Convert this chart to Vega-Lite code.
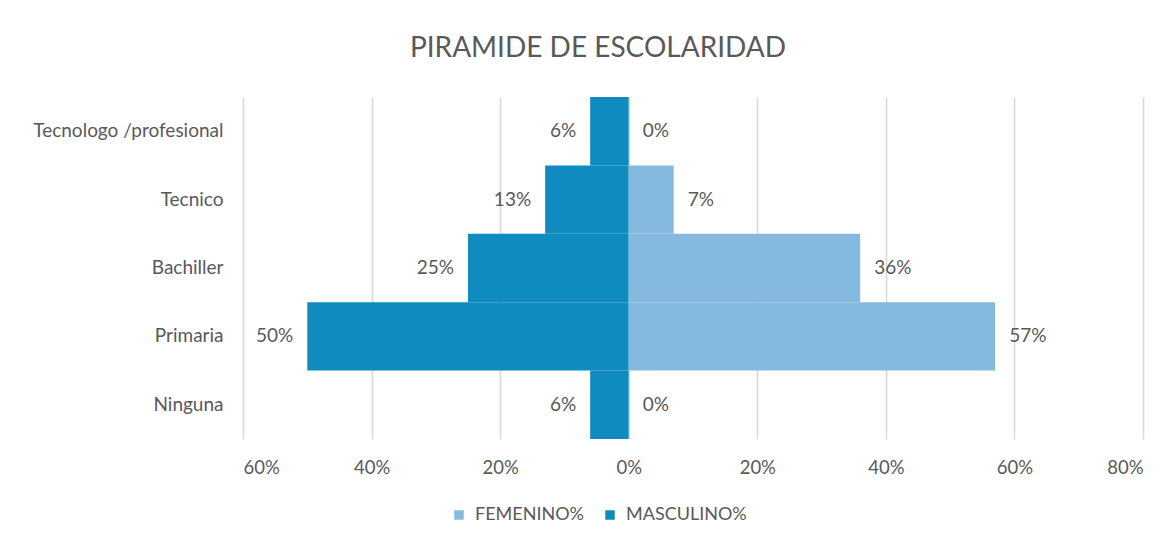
{
  "$schema": "https://vega.github.io/schema/vega-lite/v6.json",
  "autosize": "none",
  "width": 900,
  "height": 342,
  "padding": {"left": 243, "top": 97, "right": 30, "bottom": 100},
  "background": "white",
  "config": {
    "font": "Lato",
    "view": {"stroke": null},
    "axis": {"labelColor": "#595959", "labelFont": "Lato"}
  },
  "title": {
    "text": "PIRAMIDE DE ESCOLARIDAD",
    "font": "Lato",
    "fontSize": 28,
    "fontWeight": "normal",
    "color": "#595959",
    "anchor": "middle",
    "dx": -95,
    "offset": 34
  },
  "data": {
    "values": [
      {"nivel": "Tecnologo /profesional", "sexo": "MASCULINO%", "valor": -0.06},
      {"nivel": "Tecnico ", "sexo": "MASCULINO%", "valor": -0.13},
      {"nivel": "Bachiller", "sexo": "MASCULINO%", "valor": -0.25},
      {"nivel": "Primaria", "sexo": "MASCULINO%", "valor": -0.50},
      {"nivel": "Ninguna", "sexo": "MASCULINO%", "valor": -0.06},
      {"nivel": "Tecnologo /profesional", "sexo": "FEMENINO%", "valor": 0.0},
      {"nivel": "Tecnico ", "sexo": "FEMENINO%", "valor": 0.07},
      {"nivel": "Bachiller", "sexo": "FEMENINO%", "valor": 0.36},
      {"nivel": "Primaria", "sexo": "FEMENINO%", "valor": 0.57},
      {"nivel": "Ninguna", "sexo": "FEMENINO%", "valor": 0.0}
    ]
  },
  "encoding": {
    "y": {
      "field": "nivel",
      "type": "nominal",
      "sort": ["Tecnologo /profesional", "Tecnico ", "Bachiller", "Primaria", "Ninguna"],
      "scale": {"paddingInner": 0, "paddingOuter": 0},
      "axis": {"title": null, "domain": false, "ticks": false, "labelPadding": 20, "grid": false, "labelFontSize": 19, "labelLimit": 400}
    },
    "x": {
      "field": "valor",
      "type": "quantitative",
      "scale": {"domain": [-0.6, 0.8], "nice": false},
      "axis": {
        "title": null,
        "values": [-0.6, -0.4, -0.2, 0, 0.2, 0.4, 0.6, 0.8],
        "labelExpr": "format(abs(datum.value), '.0%')",
        "domain": false,
        "ticks": false,
        "grid": true,
        "gridColor": "#D9D9D9",
        "gridWidth": 1.6,
        "labelFontSize": 18.5,
        "labelPadding": 19
      }
    }
  },
  "layer": [
    {
      "mark": {"type": "bar"},
      "encoding": {
        "color": {
          "field": "sexo",
          "type": "nominal",
          "scale": {"domain": ["FEMENINO%", "MASCULINO%"], "range": ["#86B9DF", "#0F8BBF"]},
          "legend": {
            "title": null,
            "orient": "none",
            "direction": "horizontal",
            "legendX": 207,
            "legendY": 409,
            "symbolType": "square",
            "symbolSize": 90,
            "symbolStrokeWidth": 0,
            "labelFontSize": 18,
            "labelColor": "#595959",
            "labelFont": "Lato",
            "columnPadding": 16,
            "labelOffset": 7
          }
        }
      }
    },
    {
      "transform": [{"filter": "datum.valor < 0"}],
      "mark": {"type": "text", "align": "right", "dx": -14, "fontSize": 19, "color": "#595959", "font": "Lato",
        "text": {"expr": "format(abs(datum.valor), '.0%')"}}
    },
    {
      "transform": [{"filter": "datum.valor >= 0"}],
      "mark": {"type": "text", "align": "left", "dx": 14, "fontSize": 19, "color": "#595959", "font": "Lato",
        "text": {"expr": "format(abs(datum.valor), '.0%')"}}
    }
  ]
}
